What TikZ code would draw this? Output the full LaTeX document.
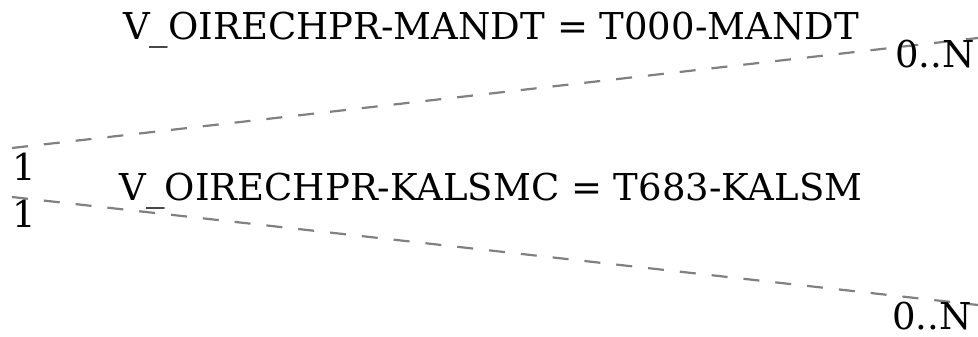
\documentclass[tikz,border=0pt]{standalone}
\usepackage{fontspec}
\setmainfont{DejaVu Serif}
\usetikzlibrary{positioning}
\begin{document}
\begin{tikzpicture}[x=1pt, y=-1pt]
    \tikzset{
      rel/.style={draw=gray, line width=2.2pt, dash pattern=on 16pt off 16pt},
      lbl/.style={font=\fontsize{37}{40}\selectfont, inner sep=0pt, anchor=base},
      card/.style={lbl},
    }
    \useasboundingbox (0,0) rectangle (978,337);

    \coordinate (src1) at (12,148);
    \coordinate (tgt1) at (978,38);
    \coordinate (src2) at (12,197);
    \coordinate (tgt2) at (978,305);

    \draw[rel] (src1) -- (tgt1);
    \draw[rel] (src2) -- (tgt2);

    \node[lbl] (cond1) at (491,40) {V\_OIRECHPR-MANDT = T000-MANDT};
    \node[lbl] (cond2) at (491,200) {V\_OIRECHPR-KALSMC = T683-KALSM};

    \node[card, anchor=base west] (one1) at (12,180) {1};
    \node[card, anchor=base west] (one2) at (12,227) {1};
    \node[card, anchor=base east] (many1) at (975,68) {0..N};
    \node[card, anchor=base east] (many2) at (972,329) {0..N};
\end{tikzpicture}
\end{document}
